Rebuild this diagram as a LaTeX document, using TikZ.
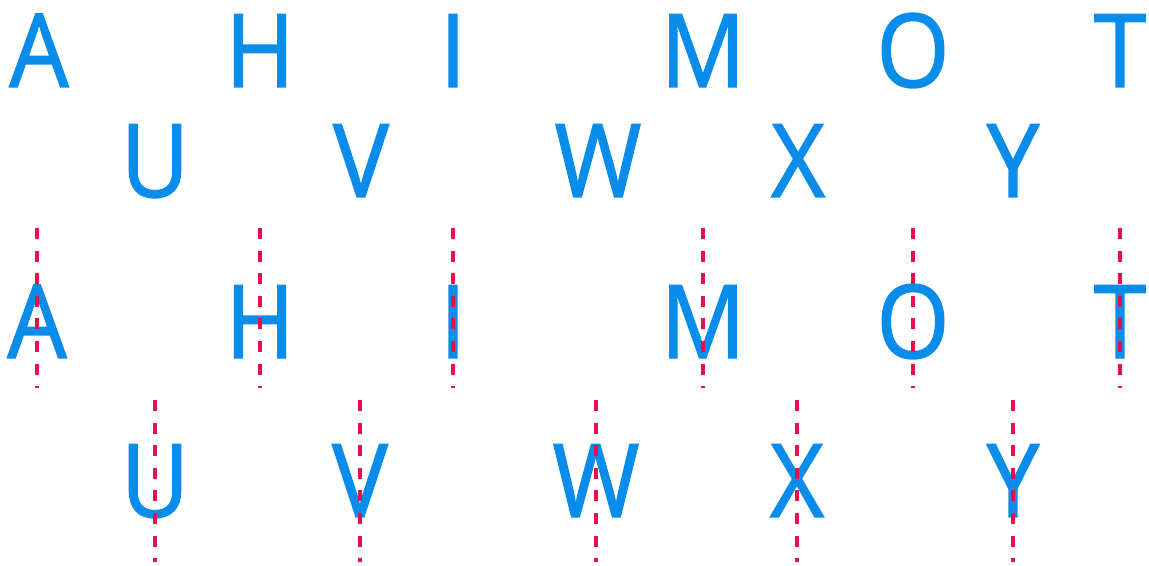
\documentclass[tikz,border=0pt]{standalone}
\usepackage{fontspec}
\setmainfont{Open Sans}[FakeStretch=0.92, FakeBold=1.3]
\usepackage{xcolor}
\usetikzlibrary{calc}
\definecolor{Sky}{HTML}{0A8CEB}
\definecolor{Crim}{HTML}{E8104A}

\begin{document}
\begin{tikzpicture}[
  x=0.5pt, y=-0.5pt,
  ltr/.style={font=\fontsize{51}{51}\selectfont, text=Sky, anchor=base, inner sep=0pt},
  axis/.style={draw=Crim, line width=2.2pt, dash pattern=on 5.5pt off 5.8pt}
]
  \useasboundingbox (0,0) rectangle (1149,566);

  % plain letters
  \foreach \l/\x in {A/39,H/260,I/453,M/703,O/913,T/1120}
    \node[ltr] (t\l) at (\x,87) {\l};
  \foreach \l/\x in {U/155,V/361,W/598,X/798,Y/1013}
    \node[ltr] (t\l) at (\x,197) {\l};

  % letters with their axis of symmetry
  \foreach \l/\x in {A/37,H/260,I/453,M/703,O/913,T/1120} {
    \node[ltr] (b\l) at (\x,358) {\l};
    \draw[axis] (\x,228) -- (\x,388);
  }
  \foreach \l/\x in {U/155,V/360,W/596,X/797,Y/1013} {
    \node[ltr] (b\l) at (\x,517) {\l};
    \draw[axis] (\x,400) -- (\x,562);
  }
\end{tikzpicture}
\end{document}
